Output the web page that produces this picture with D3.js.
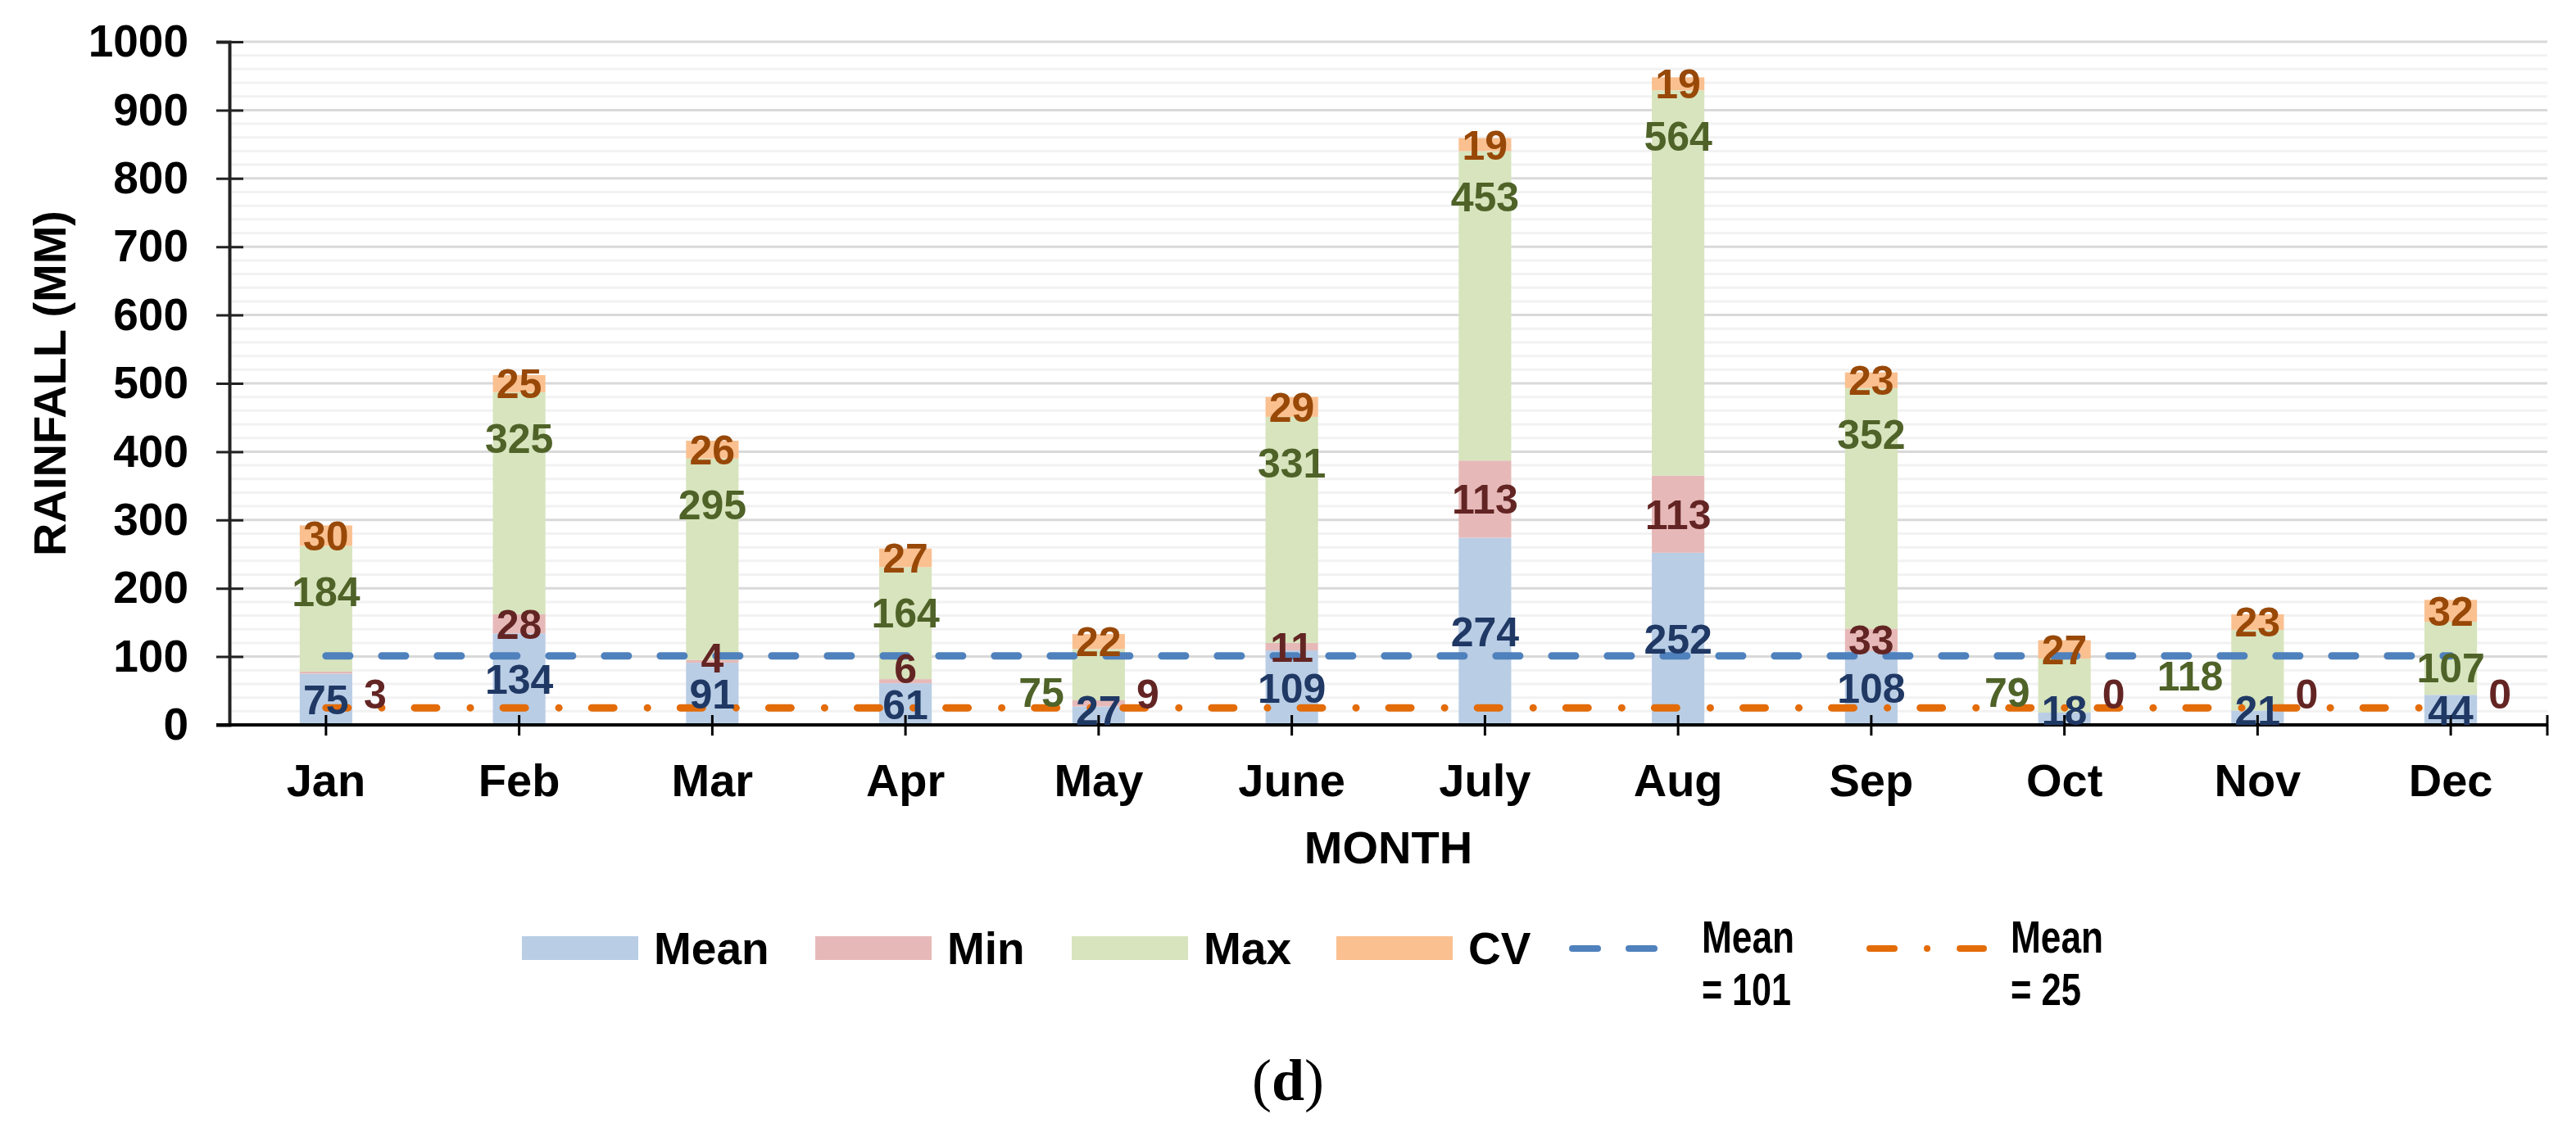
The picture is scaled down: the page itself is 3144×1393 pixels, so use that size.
<!DOCTYPE html>
<html>
<head>
<meta charset="utf-8">
<script src="https://cdn.jsdelivr.net/npm/d3@7"></script>
<style>
  body { margin: 0; background: #fff; }
  text { font-family: "Liberation Sans", Arial, sans-serif; font-weight: bold; }
</style>
</head>
<body>
<div id="chart"></div>
<script>
// monthly rainfall statistics
const months = ["Jan", "Feb", "Mar", "Apr", "May", "June", "July", "Aug", "Sep", "Oct", "Nov", "Dec"];
const meanVals = [75, 134, 91, 61, 27, 109, 274, 252, 108, 18, 21, 44];
const minVals  = [3, 28, 4, 6, 9, 11, 113, 113, 33, 0, 0, 0];
const maxVals  = [184, 325, 295, 164, 75, 331, 453, 564, 352, 79, 118, 107];
const cvVals   = [30, 25, 26, 27, 22, 29, 19, 19, 23, 27, 23, 32];
const meanLine = 101;
const cvLine = 25;
const yTicks = [0, 100, 200, 300, 400, 500, 600, 700, 800, 900, 1000];

// labels that were moved beside the bar
const rightOf = {Min: ["Jan", "May", "Oct", "Nov", "Dec"]};
const leftOf = {Max: ["May", "Oct", "Nov"]};

const width = 3144, height = 1393;
const keys = ["Mean", "Min", "Max", "CV"];
const fill = {Mean: "#b9cde5", Min: "#e6b9b8", Max: "#d7e4bd", CV: "#fac090"};
const ink  = {Mean: "#1f3864", Min: "#632523", Max: "#4f6228", CV: "#984807"};

const svg = d3.select("#chart").append("svg")
    .attr("width", width)
    .attr("height", height);

const x = d3.scaleBand().domain(months).range([280, 3109]);
const y = d3.scaleLinear().domain([0, 1000]).range([885, 51]);
const cx = m => x(m) + x.bandwidth() / 2;
const barW = x.bandwidth() * 0.272;

// gridlines
const minor = d3.range(20, 1000, 20).filter(v => v % 100 !== 0);
svg.append("g").selectAll("line")
    .data(minor)
    .join("line")
    .attr("x1", 280).attr("x2", 3109)
    .attr("y1", d => y(d)).attr("y2", d => y(d))
    .attr("stroke", "#f2f2f2").attr("stroke-width", 3);
svg.append("g").selectAll("line")
    .data(yTicks.slice(1))
    .join("line")
    .attr("x1", 280).attr("x2", 3109)
    .attr("y1", d => y(d)).attr("y2", d => y(d))
    .attr("stroke", "#d9d9d9").attr("stroke-width", 3);

// stacked bars
const table = months.map((m, i) => ({month: m, Mean: meanVals[i], Min: minVals[i], Max: maxVals[i], CV: cvVals[i]}));
const series = d3.stack().keys(keys)(table);

svg.append("g").selectAll("g")
    .data(series)
    .join("g")
    .attr("fill", s => fill[s.key])
    .selectAll("rect")
    .data(s => s)
    .join("rect")
    .attr("x", d => cx(d.data.month) - barW / 2)
    .attr("width", barW)
    .attr("y", d => y(d[1]))
    .attr("height", d => y(d[0]) - y(d[1]));

// mean lines
const line = v => d3.line().x(m => cx(m)).y(() => y(v));
svg.append("path")
    .datum(months)
    .attr("d", line(meanLine))
    .attr("fill", "none")
    .attr("stroke", "#4f81bd")
    .attr("stroke-width", 9)
    .attr("stroke-linecap", "round")
    .attr("stroke-dasharray", "29,39");
svg.append("path")
    .datum(months)
    .attr("d", line(cvLine))
    .attr("fill", "none")
    .attr("stroke", "#e36c09")
    .attr("stroke-width", 9)
    .attr("stroke-linecap", "round")
    .attr("stroke-dasharray", "27,41,0.1,40");

// axes
const yAxis = svg.append("g")
    .attr("transform", "translate(280,0)")
    .call(d3.axisLeft(y).tickValues(yTicks).tickFormat(d3.format("d")).tickSize(16).tickPadding(34));
yAxis.select(".domain").attr("stroke", "#222").attr("stroke-width", 4);
yAxis.selectAll(".tick line").attr("x2", 17).attr("x1", -16).attr("stroke", "#222").attr("stroke-width", 3);
yAxis.selectAll(".tick text").attr("font-size", 55).attr("fill", "#000")
    .style("font-family", "'Liberation Sans', Arial, sans-serif").style("font-weight", "bold");

svg.append("line")
    .attr("x1", 264).attr("x2", 3109)
    .attr("y1", y(0)).attr("y2", y(0))
    .attr("stroke", "#000").attr("stroke-width", 4);
svg.append("g").selectAll("line")
    .data(months.map(cx).concat([3109]))
    .join("line")
    .attr("x1", d => d).attr("x2", d => d)
    .attr("y1", y(0) - 12).attr("y2", y(0) + 13)
    .attr("stroke", "#000").attr("stroke-width", 3);
svg.append("g").selectAll("text")
    .data(months)
    .join("text")
    .attr("x", d => cx(d))
    .attr("y", 972)
    .attr("text-anchor", "middle")
    .attr("font-size", 56)
    .text(d => d);

svg.append("text")
    .attr("x", (280 + 3109) / 2)
    .attr("y", 1054)
    .attr("text-anchor", "middle")
    .attr("font-size", 56)
    .text("MONTH");

svg.append("text")
    .attr("transform", "translate(80," + (y(0) + y(1000)) / 2 + ") rotate(-90)")
    .attr("text-anchor", "middle")
    .attr("font-size", 56)
    .text("RAINFALL (MM)");

// data labels
const labels = [];
series.forEach(s => {
    s.forEach(d => {
        const m = d.data.month;
        let ly, lx = cx(m), anchor = "middle";
        if (s.key === "Max") ly = y(d[1]) + 56;
        else ly = y((d[0] + d[1]) / 2);
        if (s.key === "Mean") ly = Math.min(ly, y(0) - 18);
        if ((rightOf[s.key] || []).includes(m)) {
            lx = cx(m) + barW / 2 + 14; anchor = "start"; ly = y(0) - 38;
        }
        if ((leftOf[s.key] || []).includes(m)) {
            lx = cx(m) - barW / 2 - 10; anchor = "end"; ly = Math.min(ly, y(0) - 40);
        }
        labels.push({key: s.key, month: m, value: d.data[s.key], x: lx, y: ly, anchor: anchor});
    });
});
// keep stacked labels in one bar apart
months.forEach(m => {
    const inBar = labels.filter(l => l.month === m && l.anchor === "middle");
    for (let i = 1; i < inBar.length; i++) {
        if (inBar[i - 1].y - inBar[i].y < 44) inBar[i].y = inBar[i - 1].y - 44;
    }
});

svg.append("g").selectAll("text")
    .data(labels)
    .join("text")
    .attr("x", d => d.x)
    .attr("y", d => d.y)
    .attr("dy", "0.36em")
    .attr("text-anchor", d => d.anchor)
    .attr("font-size", 50)
    .attr("fill", d => ink[d.key])
    .text(d => d.value);

// legend
const legendBoxes = [
    {key: "Mean", x: 637, tx: 798},
    {key: "Min", x: 995, tx: 1156},
    {key: "Max", x: 1308, tx: 1469},
    {key: "CV", x: 1631, tx: 1792}
];
const lg = svg.append("g");
lg.selectAll("rect")
    .data(legendBoxes)
    .join("rect")
    .attr("x", d => d.x).attr("y", 1143)
    .attr("width", 142).attr("height", 29)
    .attr("fill", d => fill[d.key]);
lg.selectAll("text.box")
    .data(legendBoxes)
    .join("text")
    .attr("class", "box")
    .attr("x", d => d.tx).attr("y", 1177)
    .attr("font-size", 55)
    .text(d => d.key);

const legendLines = [
    {x1: 1919, x2: 2027, tx: 2077, color: "#4f81bd", dash: "31,38", label: "= " + meanLine, w1: 113, w2: 109},
    {x1: 2282, x2: 2421, tx: 2454, color: "#e36c09", dash: "30,40,0.1,40", label: "= " + cvLine, w1: 113, w2: 86}
];
legendLines.forEach(d => {
    lg.append("line")
        .attr("x1", d.x1).attr("x2", d.x2)
        .attr("y1", 1158).attr("y2", 1158)
        .attr("stroke", d.color).attr("stroke-width", 8)
        .attr("stroke-linecap", "round")
        .attr("stroke-dasharray", d.dash);
    lg.append("text")
        .attr("x", d.tx).attr("y", 1163)
        .attr("font-size", 55)
        .attr("textLength", d.w1).attr("lengthAdjust", "spacingAndGlyphs")
        .text("Mean");
    lg.append("text")
        .attr("x", d.tx).attr("y", 1227)
        .attr("font-size", 55)
        .attr("textLength", d.w2).attr("lengthAdjust", "spacingAndGlyphs")
        .text(d.label);
});

// panel letter
const panel = svg.append("text")
    .attr("x", width / 2)
    .attr("y", 1343)
    .attr("text-anchor", "middle")
    .attr("font-size", 72)
    .style("font-family", "'Liberation Serif', 'Times New Roman', serif")
    .style("font-weight", "normal");
panel.append("tspan").text("(");
panel.append("tspan").style("font-weight", "bold").text("d");
panel.append("tspan").text(")");
</script>
</body>
</html>
